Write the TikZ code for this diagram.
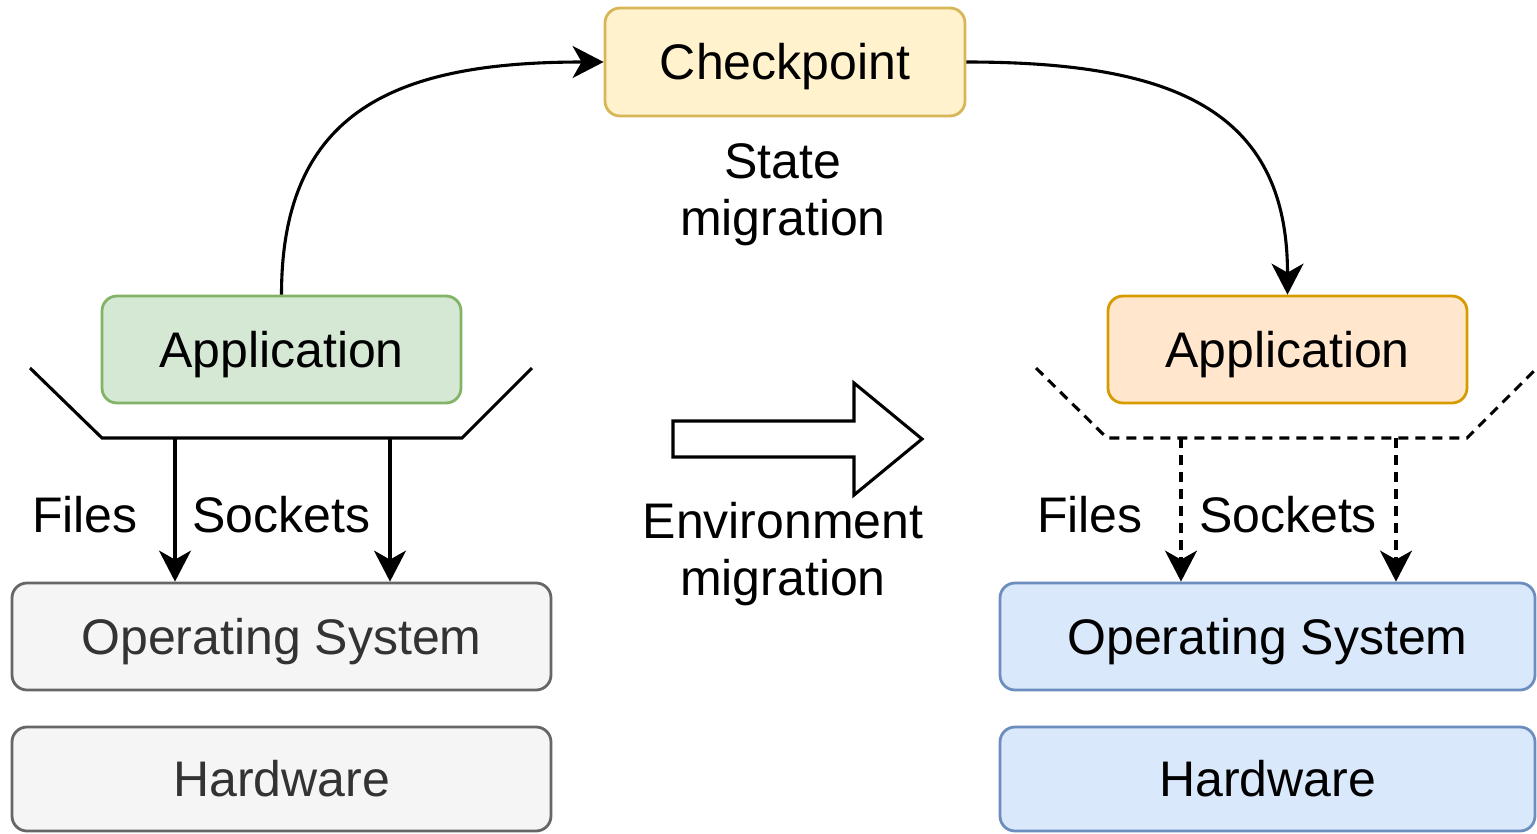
\documentclass[tikz,border=0pt]{standalone}
\usepackage{fontspec}
\setmainfont{Liberation Sans}
\usetikzlibrary{arrows.meta}

\definecolor{greenfill}{HTML}{D5E8D4}\definecolor{greenline}{HTML}{82B366}
\definecolor{orangefill}{HTML}{FFE6CC}\definecolor{orangeline}{HTML}{D79B00}
\definecolor{yellowfill}{HTML}{FFF2CC}\definecolor{yellowline}{HTML}{D6B656}
\definecolor{greyfill}{HTML}{F5F5F5}\definecolor{greyline}{HTML}{666666}
\definecolor{greytext}{HTML}{333333}
\definecolor{bluefill}{HTML}{DAE8FC}\definecolor{blueline}{HTML}{6C8EBF}

\tikzset{
  bigfont/.style={font=\fontsize{50}{57}\selectfont},
  box/.style={bigfont, rectangle, rounded corners=15pt, line width=2.8pt,
    inner sep=0pt, text height=35.8pt, text depth=0pt, anchor=center},
  lbl/.style={bigfont, inner sep=0pt},
  conn/.style={line width=3.1pt, -{Stealth[length=31pt,width=32pt,inset=9pt]}},
  dconn/.style={conn, dash pattern=on 10pt off 7pt},
  tray/.style={line width=3.1pt},
  dtray/.style={tray, dash pattern=on 10pt off 7pt},
}

\begin{document}
\begin{tikzpicture}[x=1pt,y=-1pt]
\useasboundingbox (0,0) rectangle (1537,833);

% checkpoint store
\node[box, fill=yellowfill, draw=yellowline, minimum width=360pt, minimum height=108pt]
  (cp) at (785,62) {Checkpoint};
\node[lbl, align=center, anchor=north] (state) at (783,143) {State\\migration};

% source host
\node[box, fill=greenfill, draw=greenline, minimum width=359pt, minimum height=107pt]
  (lapp) at (281.5,349.5) {Application};
\node[box, fill=greyfill, draw=greyline, text=greytext, minimum width=539pt, minimum height=107pt]
  (los) at (281.5,636.5) {Operating System};
\node[box, fill=greyfill, draw=greyline, text=greytext, minimum width=539pt, minimum height=104pt]
  (lhw) at (281.5,779) {Hardware};
\draw[tray] (30,368) -- (102,438) -- (462,438) -- (532,368);
\coordinate (lf) at (175,438);
\coordinate (ls) at (390,438);
\draw[conn] (lf) -- (lf |- los.north);
\draw[conn] (ls) -- (ls |- los.north);
\node[lbl, anchor=base] (lfiles) at (85,532) {Files};
\node[lbl, anchor=base] (lsock) at (281.5,532) {Sockets};

% target host
\node[box, fill=orangefill, draw=orangeline, minimum width=359pt, minimum height=107pt]
  (rapp) at (1287.5,349.5) {Application};
\node[box, fill=bluefill, draw=blueline, minimum width=535pt, minimum height=107pt]
  (ros) at (1267.5,636.5) {Operating System};
\node[box, fill=bluefill, draw=blueline, minimum width=535pt, minimum height=104pt]
  (rhw) at (1267.5,779) {Hardware};
\draw[dtray] (1036,368) -- (1107,438) -- (1467,438) -- (1537,368);
\coordinate (rf) at (1181,438);
\coordinate (rs) at (1396,438);
\draw[dconn] (rf) -- (rf |- ros.north);
\draw[dconn] (rs) -- (rs |- ros.north);
\node[lbl, anchor=base] (rfiles) at (1090,532) {Files};
\node[lbl, anchor=base] (rsock) at (1288,532) {Sockets};

% state migration through the checkpoint
\draw[conn] (lapp.north) .. controls +(0,-186) and +(-205,0) .. (cp.west);
\draw[conn] (cp.east) .. controls +(205,0) and +(0,-186) .. (rapp.north);

% environment migration arrow
\draw[line width=3.1pt, line join=miter, fill=white]
  (673,421) -- (854,421) -- (854,383) -- (922,439) -- (854,495) -- (854,457) -- (673,457) -- cycle;
\node[lbl, align=center, anchor=north] (env) at (783,502) {Environment\\migration};
\end{tikzpicture}
\end{document}
